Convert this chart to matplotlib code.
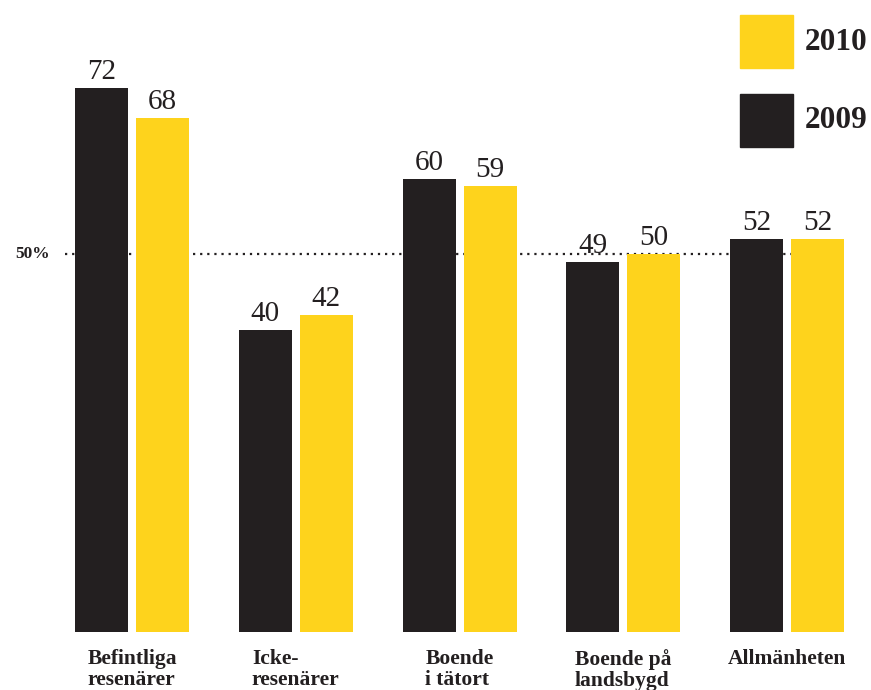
import numpy as np
import matplotlib
matplotlib.use("Agg")
import matplotlib.pyplot as plt

# data
categories = ["Befintliga\nresenärer", "Icke-\nresenärer", "Boende\ni tätort",
              "Boende på\nlandsbygd", "Allmänheten"]
values_2009 = [72, 40, 60, 49, 52]
values_2010 = [68, 42, 59, 50, 52]
series_names = ["2010", "2009"]
reference_level = 50

BLACK = "#231f20"
YELLOW = "#fed31c"

plt.rcParams['font.family'] = ['Liberation Serif', 'DejaVu Serif']

fig = plt.figure(figsize=(8.71, 6.90), dpi=100)
# axes placed in pixel terms: x 65..845, y 0..632 (from top)
ax = fig.add_axes([65 / 871, (690 - 632) / 690, (845 - 65) / 871, 632 / 690])

step = 163.75
bar_w = 53 / step
offset = 61 / step
x = np.arange(len(categories))
x_black = x - offset / 2
x_yellow = x + offset / 2

ax.axhline(reference_level, color=BLACK, linestyle=(0, (1, 2.2)), linewidth=1.6, zorder=1)

b1 = ax.bar(x_black, values_2009, width=bar_w, color=BLACK, zorder=2)
b2 = ax.bar(x_yellow, values_2010, width=bar_w, color=YELLOW, zorder=2)

for bars, vals in ((b1, values_2009), (b2, values_2010)):
    for rect, v in zip(bars, vals):
        ax.annotate(str(v), (rect.get_x() + rect.get_width() / 2, v),
                    xytext=(0, 2), textcoords="offset points",
                    ha="center", va="bottom", fontsize=21, color=BLACK)

ax.set_xlim((65 - 132) / step, (845 - 132) / step)
ax.set_ylim(0, 632 / (544 / 72))

for xi, lab in zip(x, categories):
    ax.text(xi, -2.3, lab, ha="center", va="top", multialignment="left",
            fontsize=15.5, fontweight="bold", color=BLACK, linespacing=1.05)

# 50% label sits left of the axes
ax.annotate("50%", (0, reference_level), xycoords=("axes fraction", "data"),
            xytext=(-15, 0), textcoords="offset pixels", ha="right", va="center",
            fontsize=12.5, fontweight="bold", color=BLACK, annotation_clip=False)

for s in ax.spines.values():
    s.set_visible(False)
ax.set_xticks([])
ax.set_yticks([])

# legend drawn as squares in figure pixel coords
for name, col, top in ((series_names[0], YELLOW, 15), (series_names[1], BLACK, 94)):
    fig.patches.append(plt.Rectangle((740 / 871, (690 - top - 53) / 690), 53 / 871, 53 / 690,
                                     transform=fig.transFigure, color=col))
    fig.text(805 / 871, (690 - top - 27) / 690, name, ha="left", va="center",
             fontsize=22.5, fontweight="bold", color=BLACK)

fig.savefig("out.png", dpi=100)
